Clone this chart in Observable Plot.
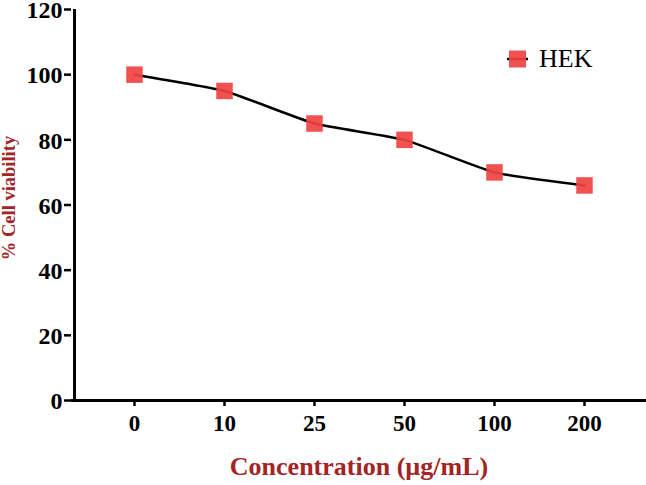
<!DOCTYPE html>
<html>
<head>
<meta charset="utf-8">
<script src="https://cdn.jsdelivr.net/npm/d3@7"></script>
<script src="https://cdn.jsdelivr.net/npm/@observablehq/plot@0.6"></script>
<style>
  html, body { margin: 0; padding: 0; background: #fff; }
  #wrap { position: relative; width: 646px; height: 485px; }
  #legend { position: absolute; left: 505px; top: 44px; display: flex; align-items: center;
            font-family: "Liberation Serif", "Times New Roman", serif; font-size: 26px; color: #000; }
  #legend svg { margin-right: 10px; }
</style>
</head>
<body>
<div id="wrap"></div>
<script>
const concentrations = ["0", "10", "25", "50", "100", "200"];
const viability = [100, 95, 85, 80, 70, 66];
const seriesName = "HEK";
const yTicks = [0, 20, 40, 60, 80, 100, 120];
const xLabel = "Concentration (µg/mL)";
const yLabel = "% Cell viability";

const data = concentrations.map((c, i) => ({conc: c, v: viability[i]}));
const red = "#ef4242";
const labelRed = "#a32424";

const chart = Plot.plot({
  width: 646,
  height: 485,
  marginLeft: 71,
  marginRight: 0,
  marginTop: 9,
  marginBottom: 85,
  style: {fontFamily: "'Liberation Serif', 'Times New Roman', serif", fontWeight: "bold", fontSize: "22px", background: "#fff", color: "#000"},
  x: {type: "point", domain: concentrations, padding: 0.66},
  y: {domain: [0, 120]},
  marks: [
    Plot.axisX({tickSize: 6, strokeWidth: 2.5, label: null, tickFormat: () => ""}),
    Plot.axisY({ticks: yTicks, tickSize: 7, strokeWidth: 2.5, label: null, tickFormat: () => ""}),
    Plot.text(concentrations, {x: d => d, frameAnchor: "bottom", lineAnchor: "top", textAnchor: "middle", dy: 14, fontSize: 23, fontWeight: "bold", fill: "#000"}),
    Plot.text(yTicks, {y: d => d, frameAnchor: "left", lineAnchor: "middle", textAnchor: "end", dx: -9, dy: 1, fontSize: 24, fontWeight: "bold", fill: "#000"}),
    Plot.ruleY([0], {strokeWidth: 3}),
    Plot.ruleX([concentrations[0]], {y1: 0, y2: 120, dx: -60, strokeWidth: 3}),
    Plot.line(data, {x: "conc", y: "v", stroke: "#000", strokeWidth: 2.5, curve: "cardinal", tension: 0.55}),
    Plot.dot(data, {x: "conc", y: "v", symbol: "square", r: 9.3, fill: red, fillOpacity: 0.92, stroke: null}),
    Plot.text([xLabel], {frameAnchor: "bottom", textAnchor: "middle", dy: 74, fill: labelRed, fontSize: 26, fontWeight: "bold"}),
    Plot.text([yLabel], {frameAnchor: "left", textAnchor: "middle", rotate: -90, dx: -62, dy: -7, fill: labelRed, fontSize: 18.5, fontWeight: "bold"})
  ]
});
const wrap = document.getElementById("wrap");
wrap.appendChild(chart);

const legend = document.createElement("div");
legend.id = "legend";
legend.innerHTML = `<svg width="24" height="20"><line x1="2" x2="23" y1="10" y2="10" stroke="#000" stroke-width="2.5"/><rect x="4" y="1.5" width="17" height="17" fill="${red}" fill-opacity="0.92"/></svg><span></span>`;
legend.querySelector("span").textContent = seriesName;
wrap.appendChild(legend);
</script>
</body>
</html>
